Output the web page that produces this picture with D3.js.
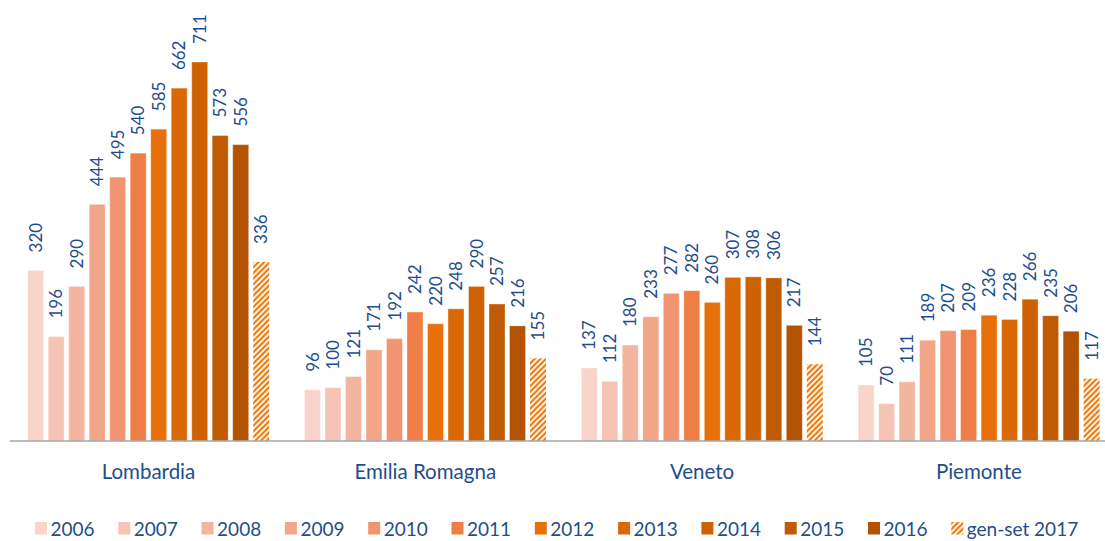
<!DOCTYPE html>
<html>
<head>
<meta charset="utf-8">
<script src="https://cdn.jsdelivr.net/npm/d3@7"></script>
<style>
  body { margin: 0; background: #fff; }
  svg { display: block; font-family: Lato, "Noto Sans", sans-serif; }
</style>
</head>
<body>
<svg id="chart" width="1105" height="541"></svg>
<script>
const regions = ["Lombardia", "Emilia Romagna", "Veneto", "Piemonte"]
const years = ["2006", "2007", "2008", "2009", "2010", "2011", "2012", "2013", "2014", "2015", "2016", "gen-set 2017"]
const lombardia = [320, 196, 290, 444, 495, 540, 585, 662, 711, 573, 556, 336]
const emilia = [96, 100, 121, 171, 192, 242, 220, 248, 290, 257, 216, 155]
const veneto = [137, 112, 180, 233, 277, 282, 260, 307, 308, 306, 217, 144]
const piemonte = [105, 70, 111, 189, 207, 209, 236, 228, 266, 235, 206, 117]
const colors = ["#f8d4ca", "#f6c4b4", "#f3b59f", "#f2a589", "#f09471", "#ee7e45",
                "#e8700a", "#da6805", "#cd6104", "#c05a03", "#b25202", "url(#hatch)"]

const seriesByRegion = [lombardia, emilia, veneto, piemonte]
const data = regions.map((r, i) => ({ region: r, values: seriesByRegion[i] }))

const width = 1105, height = 541
const baseY = 441
const groupW = 276.8
const blue = "#1f4e8c"

const svg = d3.select("#chart")

// hatched fill for the partial year
const defs = svg.append("defs")
const pat = defs.append("pattern")
    .attr("id", "hatch")
    .attr("patternUnits", "userSpaceOnUse")
    .attr("width", 4).attr("height", 4)
    .attr("patternTransform", "rotate(45)")
pat.append("rect").attr("width", 4).attr("height", 4).attr("fill", "#fff")
pat.append("rect").attr("width", 2.2).attr("height", 4).attr("fill", "#f07a0c")

const x0 = d3.scaleBand()
    .domain(regions)
    .range([10, 10 + groupW * regions.length])

const x1 = d3.scaleBand()
    .domain(years)
    .range([17.7, 259.2])
    .paddingInner(0.22)

const y = d3.scaleLinear()
    .domain([0, 711])
    .range([baseY, 62])

const groups = svg.append("g")
    .selectAll("g")
    .data(data)
    .join("g")
    .attr("transform", d => `translate(${x0(d.region)},0)`)

const cells = d => d.values.map((v, i) => ({ year: years[i], value: v, i }))

groups.selectAll("rect")
    .data(cells)
    .join("rect")
    .attr("x", d => x1(d.year))
    .attr("y", d => y(d.value))
    .attr("width", x1.bandwidth())
    .attr("height", d => baseY - y(d.value))
    .attr("fill", d => colors[d.i])
    .attr("stroke", "#fff")
    .attr("stroke-opacity", d => d.i === 11 ? 0 : 0.35)
    .attr("stroke-width", 1)

groups.selectAll("text.val")
    .data(cells)
    .join("text")
    .attr("class", "val")
    .attr("transform", d => `translate(${x1(d.year) + x1.bandwidth() / 2},${y(d.value) - 18}) rotate(-90)`)
    .attr("dy", "0.36em")
    .attr("fill", blue)
    .attr("font-size", 17)
    .text(d => d.value)

// baseline
svg.append("line")
    .attr("x1", 10).attr("x2", width)
    .attr("y1", baseY).attr("y2", baseY)
    .attr("stroke", "#a6a6a6")
    .attr("stroke-width", 1.5)

// category labels
svg.append("g")
    .selectAll("text")
    .data(regions)
    .join("text")
    .attr("x", d => x0(d) + x1(years[0]) + (x1(years[11]) + x1.bandwidth() - x1(years[0])) / 2)
    .attr("y", 479)
    .attr("text-anchor", "middle")
    .attr("fill", blue)
    .attr("font-size", 20.5)
    .text(d => d)

// legend
const legend = svg.append("g")
    .selectAll("g")
    .data(years)
    .join("g")
    .attr("transform", (d, i) => `translate(${35 + i * 83.3},522)`)

legend.append("rect")
    .attr("width", 12).attr("height", 12.5)
    .attr("fill", (d, i) => colors[i])

legend.append("text")
    .attr("x", 15.5)
    .attr("y", 13.5)
    .attr("fill", blue)
    .attr("font-size", 19)
    .text(d => d)
</script>
</body>
</html>
